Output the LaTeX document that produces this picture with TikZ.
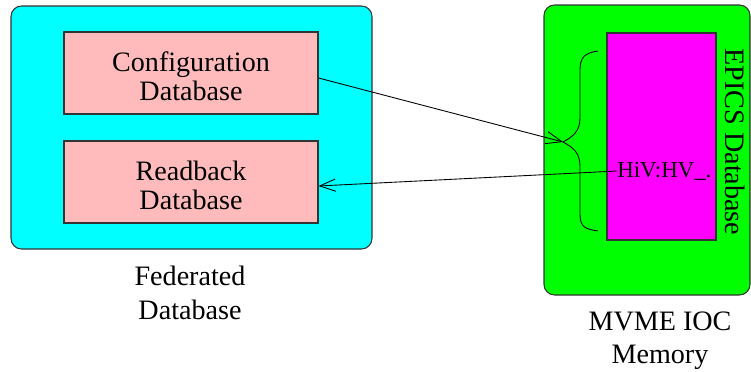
\documentclass[tikz,border=0pt]{standalone}
\usepackage{fontspec}
\setmainfont{Liberation Serif}
\usepackage{xcolor}
\definecolor{fedcyan}{RGB}{0, 255, 255}
\definecolor{iocgreen}{RGB}{0, 255, 0}
\definecolor{epicsmag}{RGB}{255, 0, 255}
\definecolor{dbpink}{RGB}{255, 187, 187}
\usetikzlibrary{arrows.meta}
\tikzset{
  dbbox/.style={draw=black!80,line width=0.6pt,fill=dbpink},
  membox/.style={draw=black!80,line width=0.6pt,rounded corners=6pt},
  lbl/.style={font=\fontsize{16}{19}\selectfont,align=center,inner sep=0pt},
  link/.style={line width=0.5pt,-{Straight Barb[length=9pt,width=7pt,line width=0.5pt]}}
}

\begin{document}
\begin{tikzpicture}[x=0.02cm,y=-0.02cm]
\useasboundingbox (0,0) rectangle (751,372);
\draw[membox,fill=fedcyan] (11,6) rectangle (372,249);
\draw[membox,fill=iocgreen] (544,5) rectangle (750,295);
\node[dbbox,minimum width=254*0.02cm,minimum height=82*0.02cm] (cfg) at (191,73) {};
\node[lbl] at (191,76) {Configuration\\[-2.5pt]Database};
\node[dbbox,minimum width=254*0.02cm,minimum height=82*0.02cm] (rdb) at (191,182) {};
\node[lbl] at (191,185) {Readback\\[-2.5pt]Database};
\node[lbl] (fed) at (190,293) {Federated\\Database};
\node[draw=black!80,line width=0.6pt,fill=epicsmag,minimum width=109*0.02cm,minimum height=207*0.02cm] (epics) at (661.5,136.5) {};
\node[lbl,rotate=-90] (epicslbl) at (735,142) {EPICS Database};
\node[lbl,anchor=west] (hiv) at (617,171) {\fontsize{13}{15}\selectfont HiV:HV\_.};
\node[lbl] (mvme) at (660,341) {MVME IOC\\Memory};
\coordinate (tip) at (563,142);
\draw[line width=0.5pt] (598,51) .. controls (585,53) and (580,57) .. (580,70)
  -- (580,118) .. controls (580,132) and (572,137) .. (tip)
  .. controls (572,147) and (580,152) .. (580,166)
  -- (580,214) .. controls (580,227) and (585,229) .. (598,231);
\draw[link] (cfg.east |- 0,78) -- (tip);
\draw[link] (hiv.west) -- (cfg.east |- 0,186);
\end{tikzpicture}
\end{document}
